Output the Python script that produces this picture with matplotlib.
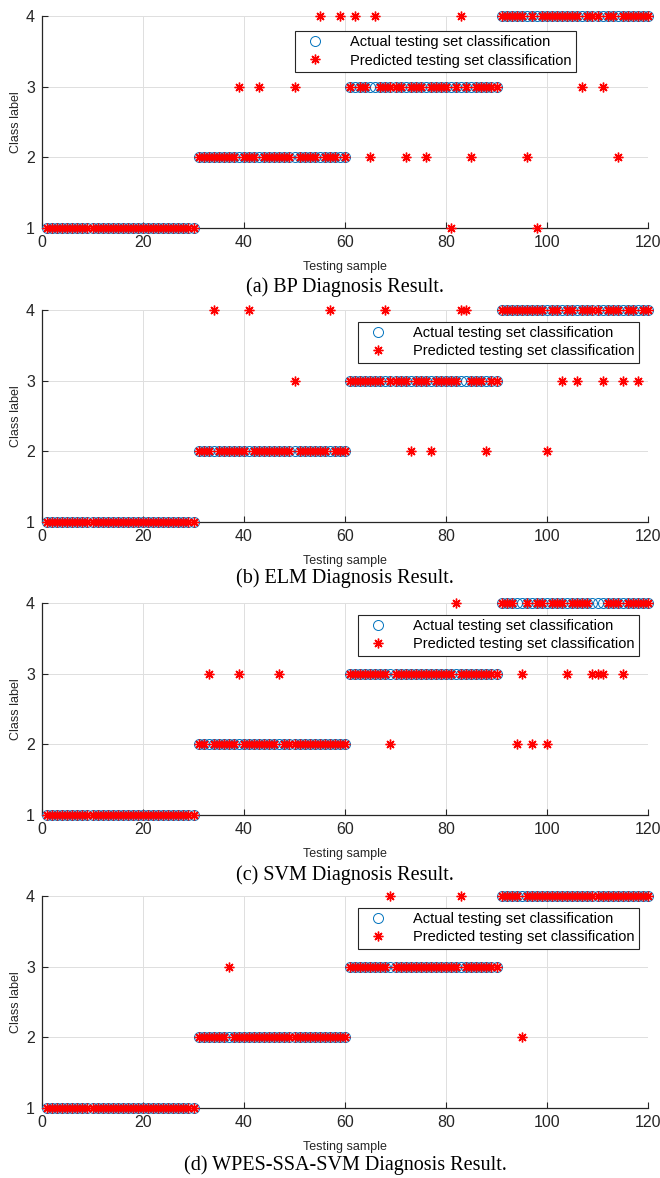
import numpy as np
import matplotlib
matplotlib.use('Agg')
import matplotlib.pyplot as plt

# Actual class of the 120 test samples: 30 per fault class
samples = np.arange(1, 121)
actual = np.array([1] * 30 + [2] * 30 + [3] * 30 + [4] * 30)

# Misclassified samples: sample number -> predicted label
bp_wrong_idx = [39, 43, 50, 55, 59, 62, 65, 66, 72, 76, 81, 83, 85, 96, 98, 107, 111, 114]
bp_wrong_lab = [3, 3, 3, 4, 4, 4, 2, 4, 2, 2, 1, 4, 2, 2, 1, 3, 3, 2]

elm_wrong_idx = [34, 41, 50, 57, 68, 73, 77, 83, 84, 88, 100, 103, 106, 111, 115, 118]
elm_wrong_lab = [4, 4, 3, 4, 4, 2, 2, 4, 4, 2, 2, 3, 3, 3, 3, 3]

svm_wrong_idx = [33, 39, 47, 69, 82, 94, 95, 97, 100, 104, 109, 110, 111, 115]
svm_wrong_lab = [3, 3, 3, 2, 4, 2, 3, 2, 2, 3, 3, 3, 3, 3]

wpes_wrong_idx = [37, 69, 83, 95]
wpes_wrong_lab = [3, 4, 4, 2]

captions = ['(a) BP Diagnosis Result.', '(b) ELM Diagnosis Result.',
            '(c) SVM Diagnosis Result.', '(d) WPES-SSA-SVM Diagnosis Result.']
wrong_idx = [bp_wrong_idx, elm_wrong_idx, svm_wrong_idx, wpes_wrong_idx]
wrong_lab = [bp_wrong_lab, elm_wrong_lab, svm_wrong_lab, wpes_wrong_lab]

W, H = 660, 1178
fig = plt.figure(figsize=(W / 100, H / 100), dpi=100)

ax_left, ax_right = 42, 648
ax_bottoms = [228, 522, 815, 1108]   # pixel row of y = 1
ax_h = 212
leg_anchor = [(0.4175, 0.93), (0.521, 0.945), (0.521, 0.945), (0.521, 0.945)]
caption_y = [287, 578, 875, 1165]

blue = (0.0, 0.447, 0.741)
star = (8, 2, 0)

for k in range(4):
    ax = fig.add_axes([ax_left / W, 1 - ax_bottoms[k] / H,
                       (ax_right - ax_left) / W, ax_h / H])
    predicted = actual.copy()
    predicted[np.array(wrong_idx[k]) - 1] = wrong_lab[k]

    ax.plot(samples, actual, 'o', mfc='none', mec=blue, ms=7.2, mew=0.7,
            clip_on=False, label='Actual testing set classification', zorder=3)
    ax.plot(samples, predicted, linestyle='none', marker=star, color='red',
            ms=7, mew=1.0, clip_on=False,
            label='Predicted testing set classification', zorder=4)

    ax.set_xlim(0, 120)
    ax.set_ylim(1, 4)
    ax.set_xticks(range(0, 121, 20))
    ax.set_yticks([1, 2, 3, 4])
    ax.grid(True, color='#dfdfdf', linewidth=0.7)
    ax.set_axisbelow(True)
    for s in ['top', 'right']:
        ax.spines[s].set_visible(False)
    for s in ['left', 'bottom']:
        ax.spines[s].set_linewidth(0.9)
        ax.spines[s].set_color('#262626')
    ax.tick_params(direction='in', length=4, width=0.8, labelsize=11.5,
                   colors='#262626', pad=5)
    for lab in ax.get_xticklabels() + ax.get_yticklabels():
        lab.set_family('Liberation Sans')
    ax.set_xlabel('Testing sample', fontsize=9, family='Liberation Sans',
                  color='#262626', labelpad=8)
    ax.set_ylabel('Class label', fontsize=9, family='Liberation Sans',
                  color='#262626', labelpad=3)

    leg = ax.legend(loc='upper left', bbox_to_anchor=leg_anchor[k],
                    borderaxespad=0,
                    prop={'family': 'Liberation Sans', 'size': 10.5},
                    fancybox=False, edgecolor='#262626', framealpha=1,
                    borderpad=0.3, handletextpad=1.3, labelspacing=0.3,
                    handlelength=2.2)
    leg.get_frame().set_linewidth(0.8)

    fig.text(0.5 * (ax_left + ax_right) / W, 1 - caption_y[k] / H, captions[k],
             ha='center', va='center', fontsize=14.5, family='Liberation Serif')

fig.savefig('out.png', dpi=100)
